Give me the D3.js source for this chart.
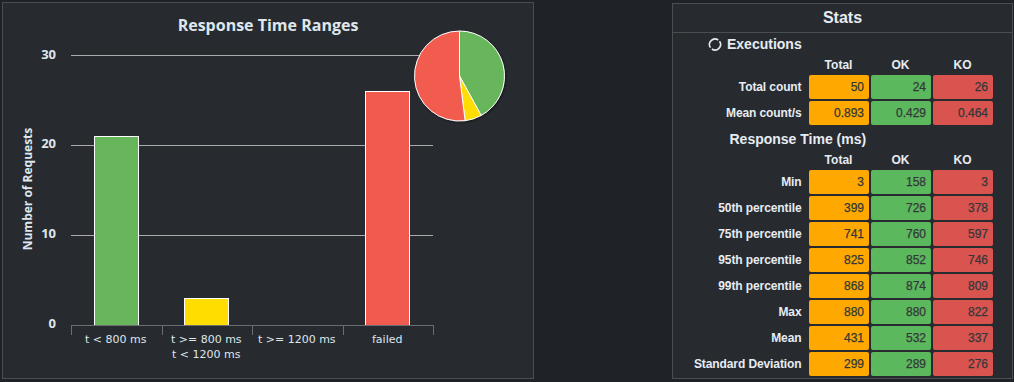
<!DOCTYPE html>
<html>
<head>
<meta charset="utf-8">
<script src="https://cdn.jsdelivr.net/npm/d3@7"></script>
<style>
html, body { margin: 0; padding: 0; background: #1f2327; overflow: hidden; }
svg { display: block; }
.chart text { font-family: "DejaVu Sans", sans-serif; fill: #dfe6ec; }
.chart text.head-font { font-family: "Open Sans", sans-serif; font-weight: bold; }
.stats text { font-family: "Liberation Sans", Arial, sans-serif; font-weight: bold; fill: #e6ecf2; }
</style>
</head>
<body>
<svg id="root" width="1014" height="382"></svg>
<script>
// bar chart
var categories = ["t < 800 ms", "t >= 800 ms|t < 1200 ms", "t >= 1200 ms", "failed"];
var counts = [21, 3, 0, 26];
var barColors = ["#68b65c", "#ffdd00", "#ffa900", "#f15b4f"];
var yTicks = [0, 10, 20, 30];

// stats tables
var statColumns = ["Total", "OK", "KO"];
var execLabels = ["Total count", "Mean count/s"];
var execTotal = ["50", "0.893"];
var execOk = ["24", "0.429"];
var execKo = ["26", "0.464"];
var timeLabels = ["Min", "50th percentile", "75th percentile", "95th percentile", "99th percentile", "Max", "Mean", "Standard Deviation"];
var timeTotal = ["3", "399", "741", "825", "868", "880", "431", "299"];
var timeOk = ["158", "726", "760", "852", "874", "880", "532", "289"];
var timeKo = ["3", "378", "597", "746", "809", "822", "337", "276"];
var cellColors = ["#ffa900", "#5cb85c", "#d9534f"];

var svg = d3.select("#root");

// panels
svg.append("rect").attr("x", 2.5).attr("y", 2.5).attr("width", 531).attr("height", 376)
    .attr("fill", "#272b30").attr("stroke", "#4b4e51");
svg.append("rect").attr("x", 672.5).attr("y", 3.5).attr("width", 340).attr("height", 375)
    .attr("fill", "#272b30").attr("stroke", "#4b4e51");

// ---- left chart
var chart = svg.append("g").attr("class", "chart");

var x = d3.scaleBand().domain(categories).range([71, 433]);
var y = d3.scaleLinear().domain([0, 30]).range([325, 55]);

chart.append("text")
    .attr("class", "head-font")
    .attr("x", 268).attr("y", 31)
    .attr("text-anchor", "middle")
    .attr("font-size", "16px")
    .text("Response Time Ranges");

chart.append("text")
    .attr("class", "head-font")
    .attr("transform", "translate(32,189) rotate(-90)")
    .attr("text-anchor", "middle")
    .attr("font-size", "12px")
    .text("Number of Requests");

// gridlines
chart.selectAll(".grid")
    .data(yTicks.slice(1))
    .enter().append("line")
    .attr("class", "grid")
    .attr("x1", 71).attr("x2", 433)
    .attr("y1", function(d) { return Math.round(y(d)) + 0.5; })
    .attr("y2", function(d) { return Math.round(y(d)) + 0.5; })
    .attr("stroke", "#a9abad");

chart.selectAll(".ylab")
    .data(yTicks)
    .enter().append("text")
    .attr("class", "ylab head-font")
    .attr("x", 56).attr("y", function(d) { return y(d) + (d < 30 ? 3 : 4); })
    .attr("text-anchor", "end")
    .attr("font-size", "13px")
    .text(function(d) { return d; });

// bars
chart.selectAll(".bar")
    .data(counts.map(function(d, i) { return {cat: categories[i], value: d, color: barColors[i]}; }))
    .enter().filter(function(d) { return d.value > 0; }).append("rect")
    .attr("class", "bar")
    .attr("x", function(d) { return Math.round(x(d.cat) + x.bandwidth() / 4) + 0.5; })
    .attr("width", 44)
    .attr("y", function(d) { return Math.round(y(d.value)) + 0.5; })
    .attr("height", function(d) { return y(0) - Math.round(y(d.value)); })
    .attr("fill", function(d) { return d.color; })
    .attr("stroke", "#fff");

// x axis, drawn from the band scale
var axis = chart.append("g");
axis.append("line")
    .attr("x1", 71).attr("x2", 434).attr("y1", 325.5).attr("y2", 325.5)
    .attr("stroke", "#6b6e71");
axis.selectAll(".tick")
    .data(categories.concat([null]))
    .enter().append("line")
    .attr("class", "tick")
    .attr("x1", function(d) { return tickPos(d); })
    .attr("x2", function(d) { return tickPos(d); })
    .attr("y1", 325).attr("y2", 335)
    .attr("stroke", "#6b6e71");

function tickPos(d) {
    return Math.round(d === null ? x.range()[1] : x(d)) + 0.5;
}

axis.selectAll(".xlab")
    .data(categories)
    .enter().append("text")
    .attr("class", "xlab")
    .attr("text-anchor", "middle")
    .attr("font-size", "11px")
    .each(function(d) {
        var t = d3.select(this);
        d.split("|").forEach(function(part, i) {
            t.append("tspan")
                .attr("x", x(d) + x.bandwidth() / 2 - 0.5)
                .attr("y", 343 + i * 14.5)
                .text(part);
        });
    });

// pie, starts at the top and goes clockwise
var pieData = d3.pie().sort(null).value(function(d) { return d; })(counts);
var arc = d3.arc().innerRadius(0).outerRadius(45);

var defs = svg.append("defs");
var shadow = defs.append("filter").attr("id", "pieShadow")
    .attr("x", "-20%").attr("y", "-20%").attr("width", "140%").attr("height", "140%");
shadow.append("feDropShadow")
    .attr("dx", 1).attr("dy", 1).attr("stdDeviation", 1)
    .attr("flood-color", "#000").attr("flood-opacity", 0.5);

var pieG = chart.append("g")
    .attr("transform", "translate(459.5,76)")
    .attr("filter", "url(#pieShadow)");
pieG.selectAll("path")
    .data(pieData.filter(function(d) { return d.value > 0; }))
    .enter().append("path")
    .attr("d", arc)
    .attr("fill", function(d) { return barColors[d.index]; })
    .attr("stroke", "#fff")
    .attr("stroke-width", 1);

// ---- stats
var stats = svg.append("g").attr("class", "stats");

stats.append("line")
    .attr("x1", 673).attr("x2", 1012).attr("y1", 32.5).attr("y2", 32.5)
    .attr("stroke", "#4b4e51");
stats.append("text")
    .attr("x", 842.5).attr("y", 22.5).attr("text-anchor", "middle")
    .attr("font-size", "16px")
    .text("Stats");

// refresh icon next to Executions
var icon = stats.append("g").attr("transform", "translate(715,44.5)");
var iconArc = d3.arc().innerRadius(4.7).outerRadius(6.3);
[[0.95, 3.75], [4.1, 6.9]].forEach(function(a) {
    icon.append("path")
        .attr("d", iconArc({startAngle: a[0], endAngle: a[1]}))
        .attr("fill", "#e6ecf2");
});

stats.append("text").attr("x", 727).attr("y", 49).attr("font-size", "14px").text("Executions");
stats.append("text").attr("x", 729.5).attr("y", 144).attr("font-size", "14px").text("Response Time (ms)");

var colX = d3.scaleBand().domain(statColumns).range([809, 993]).paddingInner(2 / 62).paddingOuter(0);

function drawTable(top, headerY, labels, series) {
    var rowY = d3.scaleBand().domain(labels).range([top, top + labels.length * 26]);
    var g = stats.append("g");

    g.selectAll(".head")
        .data(statColumns)
        .enter().append("text")
        .attr("class", "head")
        .attr("x", function(d) { return colX(d) + colX.bandwidth() / 2 - 0.5; })
        .attr("y", headerY)
        .attr("text-anchor", "middle")
        .attr("font-size", "12px")
        .text(function(d) { return d; });

    g.selectAll(".rowlab")
        .data(labels)
        .enter().append("text")
        .attr("class", "rowlab")
        .attr("x", 801.5)
        .attr("y", function(d) { return rowY(d) + 16; })
        .attr("text-anchor", "end")
        .attr("font-size", "12px")
        .attr("letter-spacing", "-0.1px")
        .text(function(d) { return d; });

    statColumns.forEach(function(col, c) {
        var cells = g.selectAll(".cell" + c)
            .data(series[c].map(function(v, i) { return {label: labels[i], value: v}; }))
            .enter().append("g").attr("class", "cell" + c);
        cells.append("rect")
            .attr("x", colX(col))
            .attr("y", function(d) { return rowY(d.label); })
            .attr("width", colX.bandwidth())
            .attr("height", 24)
            .attr("rx", 2)
            .attr("fill", cellColors[c]);
        cells.append("text")
            .attr("x", colX(col) + colX.bandwidth() - 5)
            .attr("y", function(d) { return rowY(d.label) + 16; })
            .attr("text-anchor", "end")
            .attr("font-size", "12px")
            .style("fill", "#34373a")
            .style("font-weight", "normal")
            .style("stroke", "#34373a")
            .style("stroke-width", 0.25)
            .text(function(d) { return d.value; });
    });
}

drawTable(75, 69, execLabels, [execTotal, execOk, execKo]);
drawTable(170, 164, timeLabels, [timeTotal, timeOk, timeKo]);
</script>
</body>
</html>
